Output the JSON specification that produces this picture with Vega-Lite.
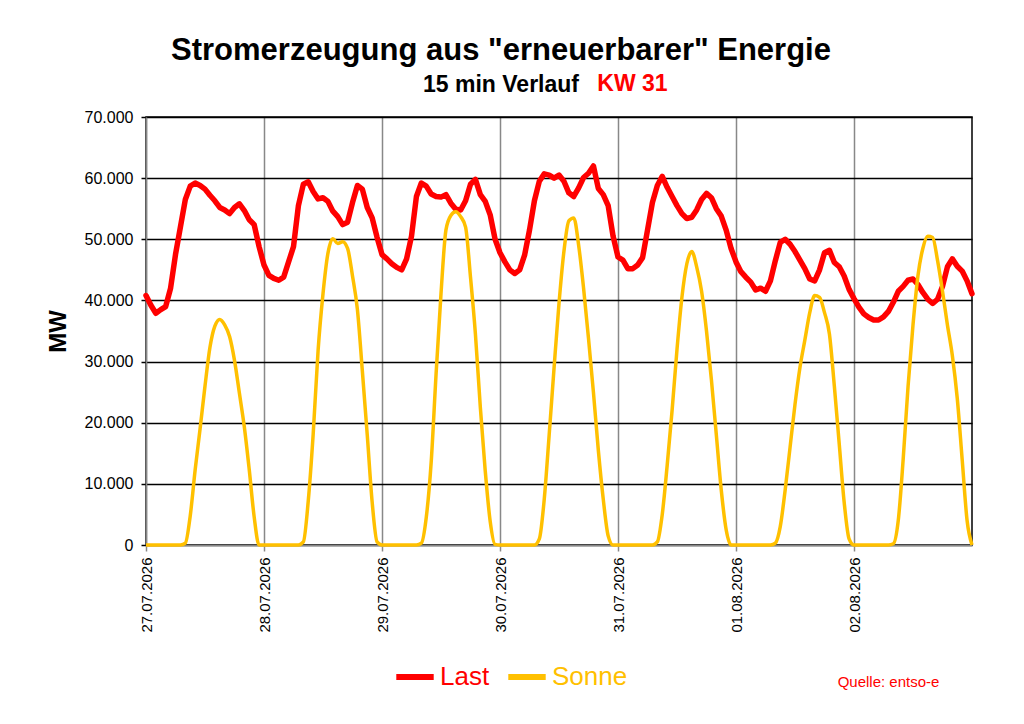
{
"$schema": "https://vega.github.io/schema/vega-lite/v6.json",
"width": 826, "height": 428,
"autosize": {"type": "none"},
"padding": {"left": 146, "top": 117, "right": 52, "bottom": 179},
"background": "white",
"config": {
  "locale": {"number": {"decimal": ",", "thousands": ".", "grouping": [3], "currency": ["", " €"]}},
  "font": "Liberation Sans",
  "view": {"stroke": "#000000", "strokeWidth": 1.5}
},
"title": {"text": "Stromerzeugung aus \"erneuerbarer\" Energie", "subtitle": "15 min Verlauf", "font": "Liberation Sans", "fontSize": 31, "fontWeight": "bold", "color": "#000000", "subtitleFont": "Liberation Sans", "subtitleFontSize": 23, "subtitleFontWeight": "bold", "subtitleColor": "#000000", "anchor": "middle", "dx": -58, "dy": 30, "subtitlePadding": 7},
"data": {"values": [
{"t":"2026-07-27T00:00","Last":40800,"Sonne":0},{"t":"2026-07-27T01:00","Last":39200,"Sonne":0},{"t":"2026-07-27T02:00","Last":37900,"Sonne":0},{"t":"2026-07-27T03:00","Last":38500,"Sonne":0},{"t":"2026-07-27T04:00","Last":39000,"Sonne":0},{"t":"2026-07-27T05:00","Last":42000,"Sonne":0},{"t":"2026-07-27T06:00","Last":47500,"Sonne":0},{"t":"2026-07-27T07:00","Last":52000,"Sonne":0},{"t":"2026-07-27T08:00","Last":56500,"Sonne":300},{"t":"2026-07-27T09:00","Last":58700,"Sonne":4800},{"t":"2026-07-27T10:00","Last":59200,"Sonne":12300},{"t":"2026-07-27T11:00","Last":58800,"Sonne":19000},{"t":"2026-07-27T12:00","Last":58200,"Sonne":26000},{"t":"2026-07-27T13:00","Last":57200,"Sonne":32300},{"t":"2026-07-27T14:00","Last":56300,"Sonne":35800},{"t":"2026-07-27T15:00","Last":55200,"Sonne":36900},{"t":"2026-07-27T16:00","Last":54800,"Sonne":36000},{"t":"2026-07-27T17:00","Last":54200,"Sonne":34100},{"t":"2026-07-27T18:00","Last":55200,"Sonne":30200},{"t":"2026-07-27T19:00","Last":55800,"Sonne":24800},{"t":"2026-07-27T20:00","Last":54700,"Sonne":19300},{"t":"2026-07-27T21:00","Last":53200,"Sonne":12300},{"t":"2026-07-27T22:00","Last":52400,"Sonne":4600},{"t":"2026-07-27T23:00","Last":48800,"Sonne":0},
{"t":"2026-07-28T00:00","Last":45800,"Sonne":0},{"t":"2026-07-28T01:00","Last":44100,"Sonne":0},{"t":"2026-07-28T02:00","Last":43600,"Sonne":0},{"t":"2026-07-28T03:00","Last":43300,"Sonne":0},{"t":"2026-07-28T04:00","Last":43800,"Sonne":0},{"t":"2026-07-28T05:00","Last":46300,"Sonne":0},{"t":"2026-07-28T06:00","Last":48800,"Sonne":0},{"t":"2026-07-28T07:00","Last":55500,"Sonne":0},{"t":"2026-07-28T08:00","Last":59000,"Sonne":500},{"t":"2026-07-28T09:00","Last":59400,"Sonne":7200},{"t":"2026-07-28T10:00","Last":57800,"Sonne":18100},{"t":"2026-07-28T11:00","Last":56600,"Sonne":31800},{"t":"2026-07-28T12:00","Last":56800,"Sonne":41100},{"t":"2026-07-28T13:00","Last":56200,"Sonne":47700},{"t":"2026-07-28T14:00","Last":54600,"Sonne":50100},{"t":"2026-07-28T15:00","Last":53700,"Sonne":49300},{"t":"2026-07-28T16:00","Last":52400,"Sonne":49600},{"t":"2026-07-28T17:00","Last":52800,"Sonne":48500},{"t":"2026-07-28T18:00","Last":56000,"Sonne":44000},{"t":"2026-07-28T19:00","Last":58800,"Sonne":38500},{"t":"2026-07-28T20:00","Last":58200,"Sonne":28500},{"t":"2026-07-28T21:00","Last":55200,"Sonne":18000},{"t":"2026-07-28T22:00","Last":53500,"Sonne":7000},{"t":"2026-07-28T23:00","Last":50300,"Sonne":500},
{"t":"2026-07-29T00:00","Last":47500,"Sonne":0},{"t":"2026-07-29T01:00","Last":46800,"Sonne":0},{"t":"2026-07-29T02:00","Last":46000,"Sonne":0},{"t":"2026-07-29T03:00","Last":45400,"Sonne":0},{"t":"2026-07-29T04:00","Last":45000,"Sonne":0},{"t":"2026-07-29T05:00","Last":46800,"Sonne":0},{"t":"2026-07-29T06:00","Last":50500,"Sonne":0},{"t":"2026-07-29T07:00","Last":57000,"Sonne":0},{"t":"2026-07-29T08:00","Last":59200,"Sonne":300},{"t":"2026-07-29T09:00","Last":58700,"Sonne":4500},{"t":"2026-07-29T10:00","Last":57400,"Sonne":13500},{"t":"2026-07-29T11:00","Last":57000,"Sonne":28000},{"t":"2026-07-29T12:00","Last":56900,"Sonne":41100},{"t":"2026-07-29T13:00","Last":57300,"Sonne":51500},{"t":"2026-07-29T14:00","Last":55900,"Sonne":53900},{"t":"2026-07-29T15:00","Last":54900,"Sonne":54500},{"t":"2026-07-29T16:00","Last":54800,"Sonne":53700},{"t":"2026-07-29T17:00","Last":56300,"Sonne":52000},{"t":"2026-07-29T18:00","Last":59000,"Sonne":43800},{"t":"2026-07-29T19:00","Last":59800,"Sonne":34500},{"t":"2026-07-29T20:00","Last":57300,"Sonne":22500},{"t":"2026-07-29T21:00","Last":56200,"Sonne":12100},{"t":"2026-07-29T22:00","Last":54000,"Sonne":3900},{"t":"2026-07-29T23:00","Last":50000,"Sonne":100},
{"t":"2026-07-30T00:00","Last":47800,"Sonne":0},{"t":"2026-07-30T01:00","Last":46300,"Sonne":0},{"t":"2026-07-30T02:00","Last":45000,"Sonne":0},{"t":"2026-07-30T03:00","Last":44400,"Sonne":0},{"t":"2026-07-30T04:00","Last":45000,"Sonne":0},{"t":"2026-07-30T05:00","Last":47400,"Sonne":0},{"t":"2026-07-30T06:00","Last":51500,"Sonne":0},{"t":"2026-07-30T07:00","Last":56300,"Sonne":0},{"t":"2026-07-30T08:00","Last":59500,"Sonne":1000},{"t":"2026-07-30T09:00","Last":60700,"Sonne":7500},{"t":"2026-07-30T10:00","Last":60500,"Sonne":18000},{"t":"2026-07-30T11:00","Last":60000,"Sonne":29000},{"t":"2026-07-30T12:00","Last":60500,"Sonne":39500},{"t":"2026-07-30T13:00","Last":59500,"Sonne":48000},{"t":"2026-07-30T14:00","Last":57600,"Sonne":53000},{"t":"2026-07-30T15:00","Last":57000,"Sonne":53500},{"t":"2026-07-30T16:00","Last":58400,"Sonne":49000},{"t":"2026-07-30T17:00","Last":60100,"Sonne":42000},{"t":"2026-07-30T18:00","Last":60800,"Sonne":33800},{"t":"2026-07-30T19:00","Last":62000,"Sonne":25000},{"t":"2026-07-30T20:00","Last":58300,"Sonne":15500},{"t":"2026-07-30T21:00","Last":57300,"Sonne":7500},{"t":"2026-07-30T22:00","Last":55500,"Sonne":1500},{"t":"2026-07-30T23:00","Last":50500,"Sonne":0},
{"t":"2026-07-31T00:00","Last":47100,"Sonne":0},{"t":"2026-07-31T01:00","Last":46600,"Sonne":0},{"t":"2026-07-31T02:00","Last":45200,"Sonne":0},{"t":"2026-07-31T03:00","Last":45200,"Sonne":0},{"t":"2026-07-31T04:00","Last":45800,"Sonne":0},{"t":"2026-07-31T05:00","Last":47000,"Sonne":0},{"t":"2026-07-31T06:00","Last":51500,"Sonne":0},{"t":"2026-07-31T07:00","Last":56000,"Sonne":0},{"t":"2026-07-31T08:00","Last":58800,"Sonne":500},{"t":"2026-07-31T09:00","Last":60300,"Sonne":5000},{"t":"2026-07-31T10:00","Last":58500,"Sonne":13000},{"t":"2026-07-31T11:00","Last":57000,"Sonne":22000},{"t":"2026-07-31T12:00","Last":55500,"Sonne":32000},{"t":"2026-07-31T13:00","Last":54200,"Sonne":40500},{"t":"2026-07-31T14:00","Last":53400,"Sonne":46000},{"t":"2026-07-31T15:00","Last":53600,"Sonne":48000},{"t":"2026-07-31T16:00","Last":54800,"Sonne":45500},{"t":"2026-07-31T17:00","Last":56500,"Sonne":41500},{"t":"2026-07-31T18:00","Last":57500,"Sonne":35000},{"t":"2026-07-31T19:00","Last":56800,"Sonne":27000},{"t":"2026-07-31T20:00","Last":55000,"Sonne":18000},{"t":"2026-07-31T21:00","Last":53800,"Sonne":9000},{"t":"2026-07-31T22:00","Last":51500,"Sonne":2500},{"t":"2026-07-31T23:00","Last":48500,"Sonne":0},
{"t":"2026-08-01T00:00","Last":46300,"Sonne":0},{"t":"2026-08-01T01:00","Last":44700,"Sonne":0},{"t":"2026-08-01T02:00","Last":43800,"Sonne":0},{"t":"2026-08-01T03:00","Last":43000,"Sonne":0},{"t":"2026-08-01T04:00","Last":41700,"Sonne":0},{"t":"2026-08-01T05:00","Last":42000,"Sonne":0},{"t":"2026-08-01T06:00","Last":41500,"Sonne":0},{"t":"2026-08-01T07:00","Last":43200,"Sonne":0},{"t":"2026-08-01T08:00","Last":46500,"Sonne":300},{"t":"2026-08-01T09:00","Last":49500,"Sonne":3000},{"t":"2026-08-01T10:00","Last":50000,"Sonne":9000},{"t":"2026-08-01T11:00","Last":49200,"Sonne":16000},{"t":"2026-08-01T12:00","Last":48000,"Sonne":23000},{"t":"2026-08-01T13:00","Last":46600,"Sonne":29000},{"t":"2026-08-01T14:00","Last":45200,"Sonne":33500},{"t":"2026-08-01T15:00","Last":43500,"Sonne":38000},{"t":"2026-08-01T16:00","Last":43200,"Sonne":40800},{"t":"2026-08-01T17:00","Last":45000,"Sonne":40500},{"t":"2026-08-01T18:00","Last":47800,"Sonne":38000},{"t":"2026-08-01T19:00","Last":48200,"Sonne":34500},{"t":"2026-08-01T20:00","Last":46200,"Sonne":26000},{"t":"2026-08-01T21:00","Last":45500,"Sonne":16500},{"t":"2026-08-01T22:00","Last":44000,"Sonne":7000},{"t":"2026-08-01T23:00","Last":41800,"Sonne":1000},
{"t":"2026-08-02T00:00","Last":40300,"Sonne":0},{"t":"2026-08-02T01:00","Last":38900,"Sonne":0},{"t":"2026-08-02T02:00","Last":37800,"Sonne":0},{"t":"2026-08-02T03:00","Last":37200,"Sonne":0},{"t":"2026-08-02T04:00","Last":36800,"Sonne":0},{"t":"2026-08-02T05:00","Last":36800,"Sonne":0},{"t":"2026-08-02T06:00","Last":37300,"Sonne":0},{"t":"2026-08-02T07:00","Last":38200,"Sonne":0},{"t":"2026-08-02T08:00","Last":39700,"Sonne":200},{"t":"2026-08-02T09:00","Last":41500,"Sonne":4000},{"t":"2026-08-02T10:00","Last":42300,"Sonne":14000},{"t":"2026-08-02T11:00","Last":43300,"Sonne":26000},{"t":"2026-08-02T12:00","Last":43500,"Sonne":36000},{"t":"2026-08-02T13:00","Last":42600,"Sonne":44000},{"t":"2026-08-02T14:00","Last":41300,"Sonne":48500},{"t":"2026-08-02T15:00","Last":40200,"Sonne":50500},{"t":"2026-08-02T16:00","Last":39500,"Sonne":50300},{"t":"2026-08-02T17:00","Last":40200,"Sonne":46500},{"t":"2026-08-02T18:00","Last":42300,"Sonne":41500},{"t":"2026-08-02T19:00","Last":45500,"Sonne":36000},{"t":"2026-08-02T20:00","Last":46800,"Sonne":31000},{"t":"2026-08-02T21:00","Last":45600,"Sonne":24000},{"t":"2026-08-02T22:00","Last":44800,"Sonne":14000},{"t":"2026-08-02T23:00","Last":43200,"Sonne":4000},
{"t":"2026-08-03T00:00","Last":41100,"Sonne":0}
]},
"layer": [
  {
    "mark": {"type": "line", "strokeWidth": 5.5, "strokeJoin": "round", "strokeCap": "round"},
    "encoding": {
      "x": {"field": "t", "type": "temporal",
        "scale": {"domain": [{"year": 2026, "month": 7, "date": 27}, {"year": 2026, "month": 8, "date": 3}]},
        "axis": {"values": [{"year": 2026, "month": 7, "date": 27}, {"year": 2026, "month": 7, "date": 28}, {"year": 2026, "month": 7, "date": 29}, {"year": 2026, "month": 7, "date": 30}, {"year": 2026, "month": 7, "date": 31}, {"year": 2026, "month": 8, "date": 1}, {"year": 2026, "month": 8, "date": 2}],
          "format": "%d.%m.%Y", "labelAngle": -90, "labelFont": "Liberation Sans", "labelFontSize": 15, "labelColor": "#000000", "labelPadding": 6, "labelFlush": false,
          "tickSize": 6, "tickColor": "#888888", "tickWidth": 1.5, "domainColor": "#888888", "domainWidth": 1.5,
          "grid": true, "gridColor": "#888888", "gridWidth": 1.5, "title": null}},
      "y": {"field": "Last", "type": "quantitative", "scale": {"domain": [0, 70000], "nice": false},
        "axis": {"values": [0, 10000, 20000, 30000, 40000, 50000, 60000, 70000], "format": ",d",
          "labelFont": "Liberation Sans", "labelFontSize": 16, "labelColor": "#000000", "labelPadding": 8,
          "tickSize": 5, "tickColor": "#000000", "tickWidth": 1.5, "domainColor": "#888888", "domainWidth": 1.5,
          "grid": true, "gridColor": "#000000", "gridWidth": 1.5,
          "title": "MW", "titleFont": "Liberation Sans", "titleFontSize": 24, "titleFontWeight": "bold", "titleColor": "#000000", "titlePadding": 14}},
      "color": {"datum": "Last", "type": "nominal",
        "scale": {"domain": ["Last", "Sonne"], "range": ["#ff0000", "#ffc000"]},
        "legend": {"orient": "none", "legendX": 247, "legendY": 538, "direction": "horizontal", "title": null,
          "symbolType": "stroke", "symbolSize": 1400, "symbolStrokeWidth": 6,
          "labelFont": "Liberation Sans", "labelFontSize": 26, "labelOffset": 3, "columnPadding": 6,
          "encode": {"labels": {"update": {"fill": {"signal": "datum.value === 'Last' ? '#ff0000' : '#ffc000'"}}}}}}
    }
  },
  {
    "mark": {"type": "line", "strokeWidth": 3.5, "interpolate": "monotone"},
    "encoding": {
      "x": {"field": "t", "type": "temporal",
        "axis": {"orient": "top", "labels": false, "ticks": false, "domain": false, "grid": false,
          "title": "KW 31", "titleColor": "#ff0000", "titleFont": "Liberation Sans", "titleFontSize": 23, "titleFontWeight": "bold",
          "titleX": 486, "titleY": -27, "titleAlign": "center", "titleBaseline": "alphabetic", "titleAngle": 0}},
      "y": {"field": "Sonne", "type": "quantitative",
        "axis": {"orient": "right", "labels": false, "ticks": false, "domain": false, "grid": false,
          "title": "Quelle: entso-e", "titleColor": "#ff0000", "titleFont": "Liberation Sans", "titleFontSize": 15, "titleFontWeight": "normal",
          "titleAngle": 0, "titleX": -84, "titleY": 569, "titleAlign": "center", "titleBaseline": "alphabetic"}},
      "color": {"datum": "Sonne", "type": "nominal"}
    }
  }
],
"resolve": {"axis": {"x": "independent", "y": "independent"}}
}
